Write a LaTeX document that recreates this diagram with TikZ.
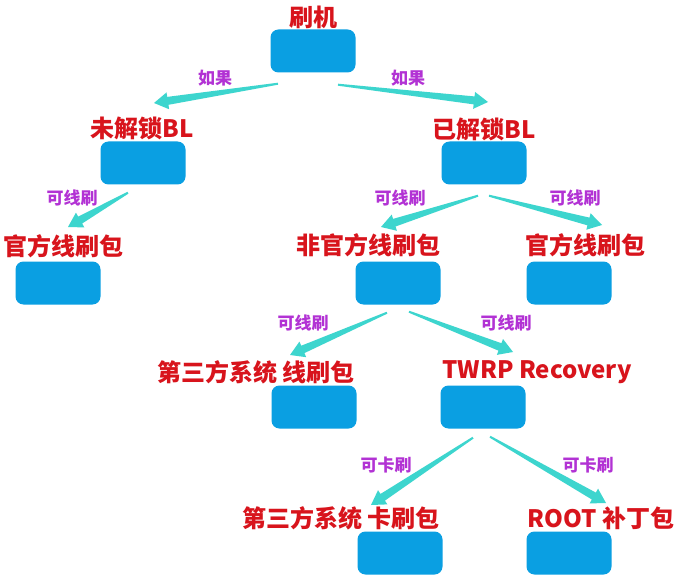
\documentclass[tikz,border=0pt]{standalone}
\usepackage{fontspec}
\newfontfamily\cjk{Noto Sans CJK SC}
\usetikzlibrary{calc, positioning}
\definecolor{boxblue}{HTML}{0A9FE2}
\definecolor{lblred}{HTML}{D8141C}
\definecolor{condpurple}{HTML}{B232D4}
\definecolor{flowcyan}{HTML}{3DD5CE}
% tapered arrow from #1 to #2
\newcommand\flowarrow[2]{%
    \coordinate (fa) at (#1);
    \coordinate (fb) at (#2);
    \coordinate (fh) at ($(fb)!14pt!(fa)$);
    \fill[flowcyan] ($(fa)!1pt!90:(fb)$) -- ($(fh)!4pt!-90:(fa)$) -- ($(fh)!8.5pt!-90:(fa)$) -- (fb)
        -- ($(fh)!8.5pt!90:(fa)$) -- ($(fh)!4pt!90:(fa)$) -- ($(fa)!1pt!-90:(fb)$) -- cycle;}
\begin{document}
\begin{tikzpicture}[x=1pt, y=-1pt,
    box/.style={fill=boxblue, rounded corners=8pt, minimum width=85pt, minimum height=43pt, inner sep=0pt},
    lbl/.style={text=lblred, font=\cjk\bfseries\fontsize{24}{24}\selectfont, inner sep=0pt},
    cond/.style={text=condpurple, font=\cjk\bfseries\fontsize{17}{17}\selectfont, inner sep=0pt}]
    \fill[white] (0,0) rectangle (679,585);
    \useasboundingbox (0,0) rectangle (679,585);
    % boxes
    \node[box] (shuaji) at (313,51) {};
    \node[box] (locked) at (143,163) {};
    \node[box] (unlocked) at (484,163) {};
    \node[box] (offL) at (58,283) {};
    \node[box] (unoff) at (398,283) {};
    \node[box] (offR) at (569,283) {};
    \node[box] (thirdLine) at (314,407) {};
    \node[box] (twrp) at (483,407) {};
    \node[box] (thirdCard) at (400,553) {};
    \node[box] (root) at (569,553) {};
    % titles
    \node[lbl] (shuajiL) at (313,17) {刷机};
    \node[lbl] (lockedL) at (142,128) {未解锁BL};
    \node[lbl] (unlockedL) at (484,129) {已解锁BL};
    \node[lbl] (offLL) at (63,246) {官方线刷包};
    \node[lbl] (unoffL) at (368,245) {非官方线刷包};
    \node[lbl] (offRL) at (585,245) {官方线刷包};
    \node[lbl] (thirdLineL) at (256,372) {第三方系统 线刷包};
    \node[lbl] (twrpL) at (537,372) {TWRP Recovery};
    \node[lbl] (thirdCardL) at (341,518) {第三方系统 卡刷包};
    \node[lbl] (rootL) at (601,518) {ROOT 补丁包};
    % conditions
    \node[cond] (ifA) at (215,78) {如果};
    \node[cond] (ifB) at (408,78) {如果};
    \node[cond] (lineA) at (72,198) {可线刷};
    \node[cond] (lineB) at (400,198) {可线刷};
    \node[cond] (lineC) at (575,198) {可线刷};
    \node[cond] (lineD) at (303,323) {可线刷};
    \node[cond] (lineE) at (506,323) {可线刷};
    \node[cond] (cardA) at (386,465) {可卡刷};
    \node[cond] (cardB) at (588,465) {可卡刷};
    % arrows
    \flowarrow{[shift={(-35,11)}]shuaji.south}{[shift={(12,-25)}]lockedL.center}
    \flowarrow{[shift={(25,12)}]shuaji.south}{[shift={(4,-27)}]unlockedL.center}
    \flowarrow{[shift={(-15,8)}]locked.south}{[shift={(5,-19)}]offLL.center}
    \flowarrow{[shift={(-6,11)}]unlocked.south}{[shift={(13,-18)}]unoffL.center}
    \flowarrow{[shift={(5,11)}]unlocked.south}{[shift={(17,-20)}]offRL.center}
    \flowarrow{[shift={(-11,8)}]unoff.south}{[shift={(34,-17)}]thirdLineL.center}
    \flowarrow{[shift={(11,7)}]unoff.south}{[shift={(-24,-20)}]twrpL.center}
    \flowarrow{[shift={(-10,9)}]twrp.south}{[shift={(30,-13)}]thirdCardL.center}
    \flowarrow{[shift={(7,8)}]twrp.south}{[shift={(5,-15)}]rootL.center}
\end{tikzpicture}
\end{document}
